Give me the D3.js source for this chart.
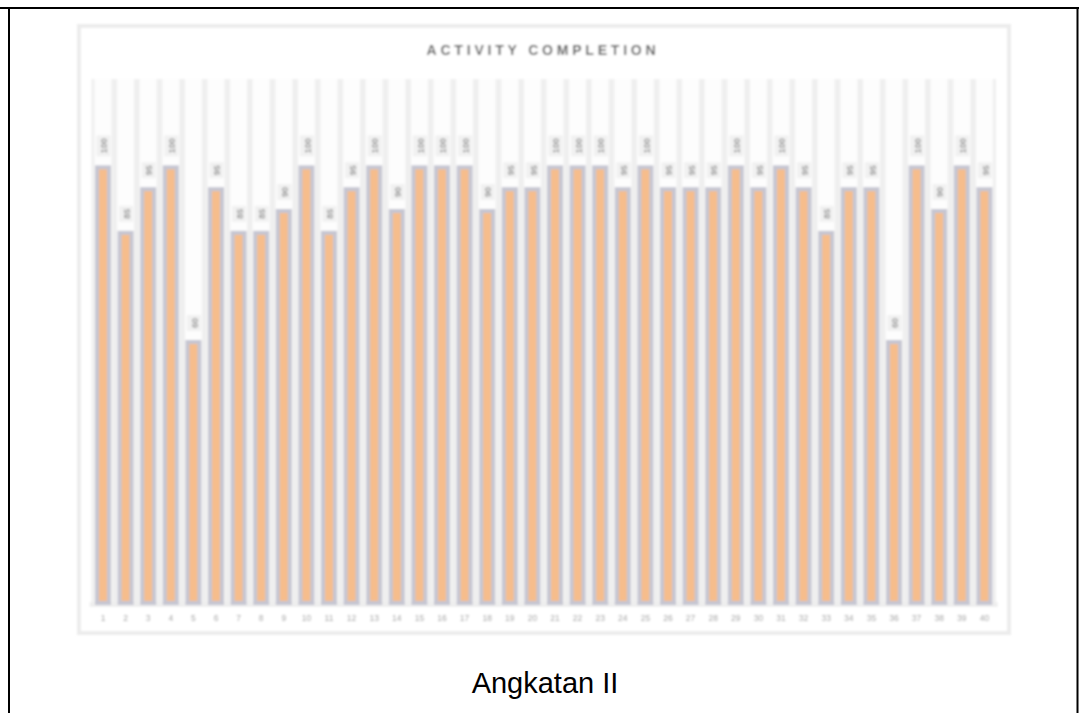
<!DOCTYPE html>
<html>
<head>
<meta charset="utf-8">
<script src="https://cdn.jsdelivr.net/npm/d3@7"></script>
<style>
  html, body { margin: 0; padding: 0; background: #fff; }
  svg { display: block; }
</style>
</head>
<body>
<svg id="chart" width="1079" height="713"></svg>
<script>
// Participant numbers and their activity completion (%)
const participants = d3.range(1, 41).map(String);
const completion = [
  100, 85, 95, 100, 60, 95, 85, 85, 90, 100,
  85, 95, 100, 90, 100, 100, 100, 90, 95, 95,
  100, 100, 100, 95, 100, 95, 95, 95, 100, 95,
  100, 95, 85, 95, 95, 60, 100, 90, 100, 95
];
const chartTitle = "ACTIVITY COMPLETION";
const caption = "Angkatan II";
const yMax = 120;

const svg = d3.select("#chart");

// Document frame (table cell borders)
svg.append("line").attr("x1", 0).attr("x2", 1079).attr("y1", 8).attr("y2", 8)
  .attr("stroke", "#000").attr("stroke-width", 2);
svg.append("line").attr("x1", 9).attr("x2", 9).attr("y1", 7).attr("y2", 713)
  .attr("stroke", "#000").attr("stroke-width", 2);
svg.append("line").attr("x1", 1077.5).attr("x2", 1077.5).attr("y1", 7).attr("y2", 713)
  .attr("stroke", "#000").attr("stroke-width", 2);

// Soft filter for the embedded chart image
const defs = svg.append("defs");
defs.append("filter").attr("id", "soft")
  .attr("x", "-2%").attr("y", "-2%").attr("width", "104%").attr("height", "104%")
  .append("feGaussianBlur").attr("stdDeviation", 0.85);

const chart = svg.append("g").attr("filter", "url(#soft)");

// Chart panel
chart.append("rect")
  .attr("x", 79).attr("y", 26).attr("width", 930).attr("height", 607)
  .attr("fill", "#fff").attr("stroke", "#ececec").attr("stroke-width", 4);

chart.append("text")
  .attr("x", 543).attr("y", 55)
  .attr("text-anchor", "middle")
  .attr("font-family", "Liberation Sans, Arial, sans-serif")
  .attr("font-weight", "bold")
  .attr("font-size", 14)
  .attr("letter-spacing", 3.8)
  .attr("fill", "#5f5f5f")
  .text(chartTitle);

const x = d3.scaleBand().domain(participants).range([91.7, 995.7]).padding(0);
const y = d3.scaleLinear().domain([0, yMax]).range([603, 79]);

// Full-height background tracks: faint column with light side edges
const tracks = chart.append("g").selectAll("g")
  .data(participants)
  .join("g")
  .attr("transform", d => `translate(${x(d) + x.bandwidth() / 2},0)`);

tracks.append("rect")
  .attr("x", -10).attr("width", 20)
  .attr("y", y(yMax)).attr("height", y(0) - y(yMax))
  .attr("fill", "#fdfdfd");

tracks.selectAll("line")
  .data([-10, 10])
  .join("line")
  .attr("x1", d => d).attr("x2", d => d)
  .attr("y1", y(yMax)).attr("y2", y(0))
  .attr("stroke", "#efefef")
  .attr("stroke-width", 3);

// Baseline strip
chart.append("line")
  .attr("x1", x.range()[0] - 2).attr("x2", x.range()[1] + 2)
  .attr("y1", y(0) + 1.5).attr("y2", y(0) + 1.5)
  .attr("stroke", "#eeeeee").attr("stroke-width", 5);

const data = participants.map((p, i) => ({ p, v: completion[i] }));

// Bars
chart.append("g").selectAll("rect")
  .data(data)
  .join("rect")
  .attr("x", d => x(d.p) + x.bandwidth() / 2 - 6)
  .attr("width", 12)
  .attr("y", d => y(d.v) + 1)
  .attr("height", d => y(0) - y(d.v) - 1)
  .attr("fill", "#f6bd8c")
  .attr("stroke", "#c6c6d2")
  .attr("stroke-width", 4);

// Value labels (rotated) with light backing boxes
const lbl = chart.append("g").selectAll("g")
  .data(data)
  .join("g")
  .attr("transform", d => `translate(${x(d.p) + x.bandwidth() / 2 + 1},${y(d.v) - 11}) rotate(-90)`);

lbl.append("rect")
  .attr("class", "box")
  .attr("y", -7.5).attr("height", 14)
  .attr("fill", "#f1f1f1");

lbl.append("text")
  .attr("x", 2)
  .attr("y", 0)
  .attr("dy", "0.35em")
  .attr("font-family", "Liberation Sans, Arial, sans-serif")
  .attr("font-size", 9)
  .attr("font-weight", "bold")
  .attr("fill", "#999")
  .text(d => d.v);

lbl.each(function () {
  const g = d3.select(this);
  const w = g.select("text").node().getComputedTextLength();
  g.select("rect.box").attr("x", -1).attr("width", w + 6);
});

// Category axis labels
chart.append("g").selectAll("text")
  .data(participants)
  .join("text")
  .attr("x", d => x(d) + x.bandwidth() / 2)
  .attr("y", 621)
  .attr("text-anchor", "middle")
  .attr("font-family", "Liberation Sans, Arial, sans-serif")
  .attr("font-size", 8.5)
  .attr("fill", "#a0a0a0")
  .text(d => d);

// Caption below the chart
svg.append("text")
  .attr("x", 545).attr("y", 693)
  .attr("text-anchor", "middle")
  .attr("font-family", "Liberation Sans, Arial, sans-serif")
  .attr("font-size", 29)
  .attr("fill", "#000")
  .text(caption);
</script>
</body>
</html>
